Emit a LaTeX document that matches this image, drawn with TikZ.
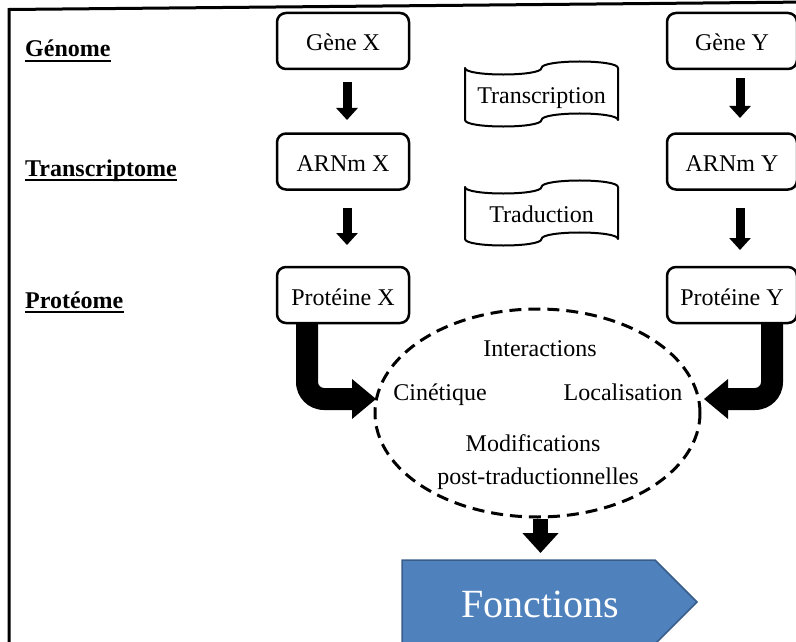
\documentclass[tikz,border=0pt]{standalone}
\usepackage{fontspec}
\setmainfont{Liberation Serif}
\usetikzlibrary{arrows.meta,shapes.geometric,calc}
\definecolor{fblue}{HTML}{4F81BD}
\definecolor{fborder}{HTML}{385D8A}
\begin{document}
\begin{tikzpicture}[x=1pt,y=-1pt,
  every node/.style={font=\fontsize{24}{28}\selectfont},
  genebox/.style={draw, line width=2.5pt, rounded corners=9pt, minimum width=132pt,
    minimum height=56pt, inner sep=0pt, text height=20pt, text depth=0pt},
  levellab/.style={font=\fontsize{24}{28}\selectfont\bfseries, inner sep=0pt, anchor=base west},
  underl/.style={line width=2pt},
  downarr/.style={line width=9pt, -{Triangle[width=21pt,length=12pt]}},
  tapeline/.style={line width=2pt, line join=round},
  txt/.style={inner sep=0pt, anchor=base},
  bentarr/.style={fill=black}
]
\useasboundingbox (0,0) rectangle (796,642);
% frame
\draw[line width=3pt] (9,660) -- (9,9.5) -- (810,2);

% level labels
\node[levellab] (lg) at (25,57) {Génome};
\node[levellab] (lt) at (25,176) {Transcriptome};
\node[levellab] (lp) at (25,308) {Protéome};
\draw[underl] ([yshift=-4pt]lg.base west) -- ([yshift=-4pt]lg.base east);
\draw[underl] ([yshift=-4pt]lt.base west) -- ([yshift=-4pt]lt.base east);
\draw[underl] ([yshift=-4pt]lp.base west) -- ([yshift=-4pt]lp.base east);

% boxes
\node[genebox] (gx) at (343,41) {Gène X};
\node[genebox] (ax) at (343,161.5) {ARNm X};
\node[genebox] (px) at (343,295) {Protéine X};
\node[genebox, minimum width=130pt] (gy) at (732,41) {Gène Y};
\node[genebox, minimum width=130pt] (ay) at (732,161.5) {ARNm Y};
\node[genebox, minimum width=130pt] (py) at (732,295) {Protéine Y};

% down arrows
\draw[downarr, shorten <=11.75pt, shorten >=12.25pt] ([xshift=4pt]gx.south) -- ([xshift=4pt]ax.north);
\draw[downarr, shorten <=17.25pt, shorten >=20.75pt] ([xshift=4pt]ax.south) -- ([xshift=4pt]px.north);
\draw[downarr, shorten <=7.75pt, shorten >=14.25pt] ([xshift=8pt]gy.south) -- ([xshift=8pt]ay.north);
\draw[downarr, shorten <=17.25pt, shorten >=15.75pt] ([xshift=8pt]ay.south) -- ([xshift=8pt]py.north);

% punched tape shapes
\draw[tapeline] (465,68) .. controls (465,76.67) and (541.5,76.67) .. (541.5,68)
  .. controls (541.5,59.33) and (618,59.33) .. (618,68) -- (618,120)
  .. controls (618,111.33) and (541.5,111.33) .. (541.5,120)
  .. controls (541.5,128.67) and (465,128.67) .. (465,120) -- cycle;
\node[txt] (transc) at (541.5,103) {Transcription};
\draw[tapeline] (465,187) .. controls (465,195.67) and (541.5,195.67) .. (541.5,187)
  .. controls (541.5,178.33) and (618,178.33) .. (618,187) -- (618,239)
  .. controls (618,230.33) and (541.5,230.33) .. (541.5,239)
  .. controls (541.5,247.67) and (465,247.67) .. (465,239) -- cycle;
\node[txt] (trad) at (541.5,222) {Traduction};

% ellipse
\node[draw, ellipse, dash pattern=on 12pt off 7pt, line width=3pt, minimum width=325pt,
  minimum height=208pt, inner sep=0pt] (ell) at (537.5,413) {};
\node[txt] (inter) at (540,356) {Interactions};
\node[txt] (cine) at (440,400) {Cinétique};
\node[txt] (loc) at (623,400) {Localisation};
\node[txt] (modif) at (533,451) {Modifications};
\node[txt] (post) at (538,484) {post-traductionnelles};

% bent arrows
\fill[bentarr] (296,322) -- (296,382) .. controls (296,397.5) and (308.5,410) .. (324,410)
  -- (352,410) -- (352,419) -- (376,399) -- (352,379) -- (352,388) -- (324,388)
  .. controls (320.7,388) and (318,385.3) .. (318,382) -- (318,322) -- cycle;
\fill[bentarr] (783,322) -- (783,382) .. controls (783,397.5) and (770.5,410) .. (755,410)
  -- (728,410) -- (728,419) -- (704,399) -- (728,379) -- (728,388) -- (755,388)
  .. controls (758.3,388) and (761,385.3) .. (761,382) -- (761,322) -- cycle;

% Fonctions
\filldraw[fill=fblue, draw=fborder, line width=1.5pt] (402,560) -- (655,560) -- (697,602)
  -- (655,644) -- (402,644) -- cycle;
\coordinate (ftop) at (540.5,560);
\node[txt, text=white, font=\fontsize{40}{48}\selectfont] (fonc) at (540,617) {Fonctions};
\draw[line width=15pt, -{Triangle[width=35pt,length=20pt]}, shorten >=7pt] (ell.south -| ftop) -- (ftop);
\end{tikzpicture}
\end{document}
